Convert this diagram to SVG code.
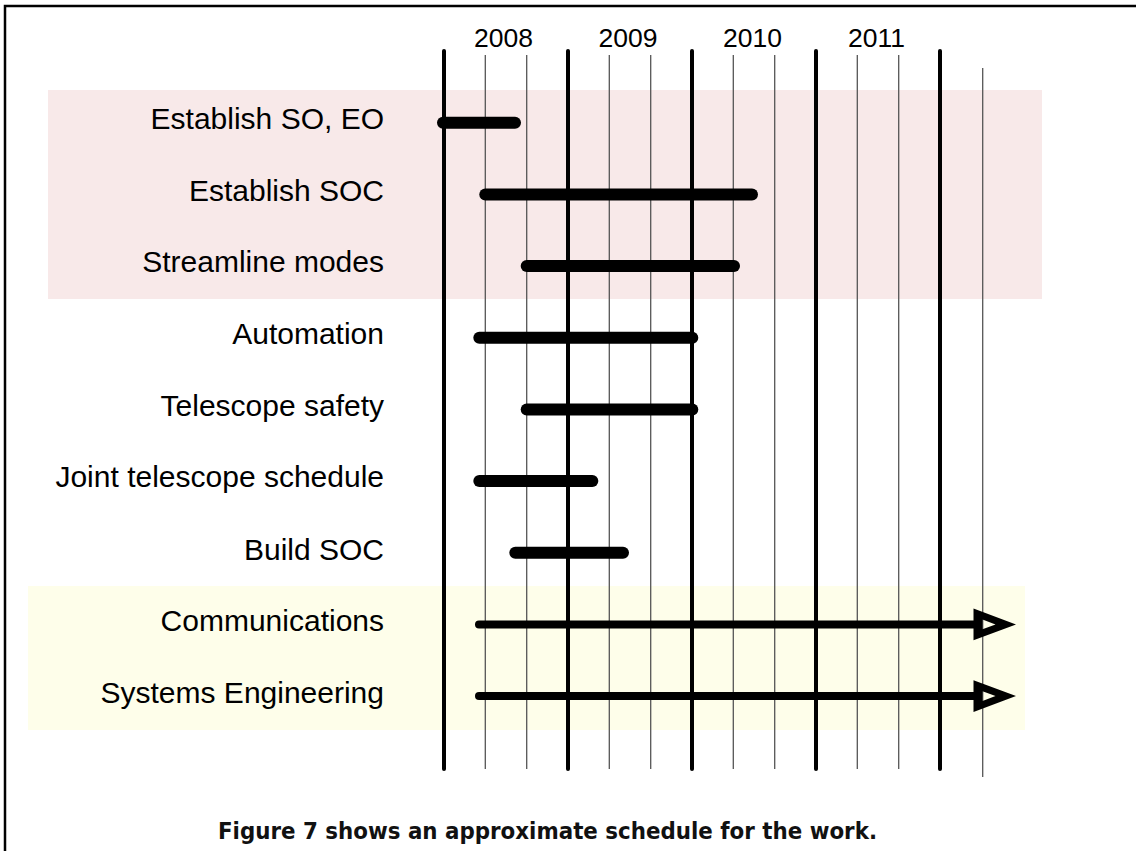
<svg xmlns="http://www.w3.org/2000/svg" width="1136" height="851" viewBox="0 0 1136 851">
<style>
.lbl{font-family:"Liberation Sans",Arial,sans-serif;font-size:30px;fill:#000;text-anchor:end}
.yr{font-family:"Liberation Sans",Arial,sans-serif;font-size:26.5px;fill:#000;text-anchor:middle}
.cap{font-family:"DejaVu Sans",Verdana,sans-serif;font-size:23px;font-weight:bold;fill:#111}
.thick{stroke:#000;stroke-width:4;stroke-linecap:round;fill:none}
.thin{stroke:#555;stroke-width:1.3;fill:none}
.bar{stroke:#000;stroke-width:12;stroke-linecap:round;fill:none}
.arr{stroke:#000;stroke-width:8;stroke-linecap:round;fill:none}
.head{fill:#000;fill-rule:evenodd}
</style>
<rect width="1136" height="851" fill="#fff"/>
<path d="M5,851 V6 H1136" fill="none" stroke="#000" stroke-width="2.5"/>
<rect x="48" y="90" width="994" height="209" fill="#f8e9e9"/>
<rect x="28" y="586" width="997" height="144" fill="#fefeea"/>
<g id="grid">
<line class="thin" x1="485.3" y1="55" x2="485.3" y2="769"/>
<line class="thin" x1="526.7" y1="55" x2="526.7" y2="769"/>
<line class="thin" x1="609.3" y1="55" x2="609.3" y2="769"/>
<line class="thin" x1="650.7" y1="55" x2="650.7" y2="769"/>
<line class="thin" x1="733.3" y1="55" x2="733.3" y2="769"/>
<line class="thin" x1="774.7" y1="55" x2="774.7" y2="769"/>
<line class="thin" x1="857.3" y1="55" x2="857.3" y2="769"/>
<line class="thin" x1="898.7" y1="55" x2="898.7" y2="769"/>
<line class="thin" x1="982.7" y1="68" x2="982.7" y2="777"/>
<line class="thick" x1="444" y1="51" x2="444" y2="769"/>
<line class="thick" x1="568" y1="51" x2="568" y2="769"/>
<line class="thick" x1="692" y1="51" x2="692" y2="769"/>
<line class="thick" x1="816" y1="51" x2="816" y2="769"/>
<line class="thick" x1="940" y1="51" x2="940" y2="769"/>
</g>
<g id="years">
<text class="yr" x="503.5" y="47.3">2008</text>
<text class="yr" x="628" y="47.3">2009</text>
<text class="yr" x="752.5" y="47.3">2010</text>
<text class="yr" x="876.5" y="47.3">2011</text>
</g>
<g id="task-establish-so-eo"><text class="lbl" x="384" y="129.3">Establish SO, EO</text></g>
<g id="task-establish-soc"><text class="lbl" x="384" y="200.5">Establish SOC</text></g>
<g id="task-streamline"><text class="lbl" x="384" y="272.3">Streamline modes</text></g>
<g id="task-automation"><text class="lbl" x="384" y="344.2">Automation</text></g>
<g id="task-safety"><text class="lbl" x="384" y="416.3">Telescope safety</text></g>
<g id="task-joint"><text class="lbl" x="384" y="487.3">Joint telescope schedule</text></g>
<g id="task-build-soc"><text class="lbl" x="384" y="559.5">Build SOC</text></g>
<g id="task-comms"><text class="lbl" x="384" y="631">Communications</text></g>
<g id="task-syseng"><text class="lbl" x="384" y="702.6">Systems Engineering</text></g>
<g id="connectors">
<line class="bar" x1="443" y1="122.7" x2="515" y2="122.7"/>
<line class="bar" x1="485.3" y1="194.4" x2="752" y2="194.4"/>
<line class="bar" x1="526.7" y1="266" x2="734" y2="266"/>
<line class="bar" x1="479.3" y1="337.7" x2="692.3" y2="337.7"/>
<line class="bar" x1="526.7" y1="409.4" x2="692.3" y2="409.4"/>
<line class="bar" x1="479.3" y1="481" x2="592.3" y2="481"/>
<line class="bar" x1="515.3" y1="552.8" x2="623" y2="552.8"/>
<line class="arr" x1="479" y1="624.4" x2="976" y2="624.4"/>
<line class="arr" x1="479" y1="696.1" x2="976" y2="696.1"/>
<path class="head" d="M973.5,608.5 L1016,624.4 L973.5,640.3 Z M982.5,619.5 L982.5,629.3 L995.5,624.4 Z"/>
<path class="head" d="M973.5,680.2 L1016,696.1 L973.5,712 Z M982.5,691.2 L982.5,701 L995.5,696.1 Z"/>
</g>
<text class="cap" x="218" y="838.5" textLength="659" lengthAdjust="spacingAndGlyphs">Figure 7 shows an approximate schedule for the work.</text>
</svg>
